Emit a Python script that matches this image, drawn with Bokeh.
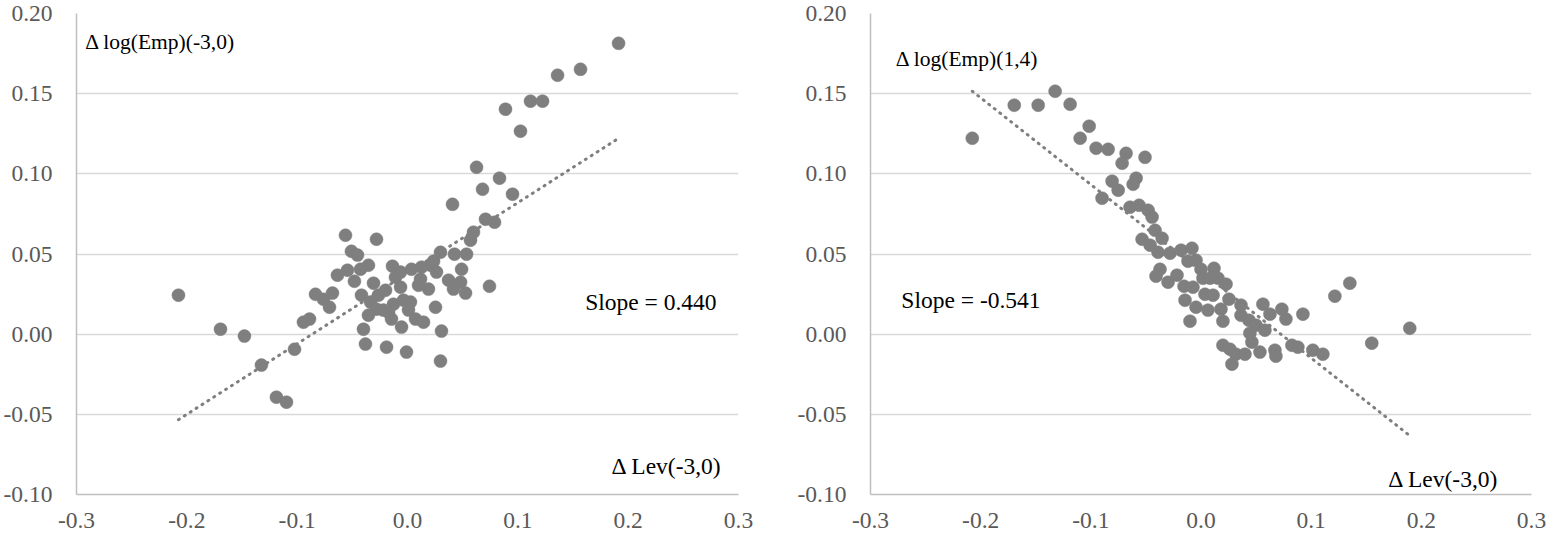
from bokeh.plotting import figure
from bokeh.layouts import row
from bokeh.models import Range1d, FixedTicker, Label
from bokeh.embed import file_html
from bokeh.resources import INLINE

# ---------------- data ----------------
x_ticks = [-0.3, -0.2, -0.1, 0.0, 0.1, 0.2, 0.3]
x_tick_labels = ["-0.3", "-0.2", "-0.1", "0.0", "0.1", "0.2", "0.3"]
y_ticks = [-0.10, -0.05, 0.0, 0.05, 0.10, 0.15, 0.20]
y_tick_labels = ["-0.10", "-0.05", "0.00", "0.05", "0.10", "0.15", "0.20"]

# Left panel: Delta Lev(-3,0) vs Delta log(Emp)(-3,0)
lev_left = [-0.2076, -0.1695, -0.1478, -0.1324, -0.1188, -0.1097, -0.1024, -0.0943,
            -0.0888, -0.0834, -0.0762, -0.0680, -0.0707, -0.0562, -0.0281, -0.0508,
            -0.0453, -0.0354, -0.0635, -0.0544, -0.0481, -0.0426, -0.0308, -0.0417,
            -0.0335, -0.0263, -0.0199, -0.0281, -0.0354, -0.0399, -0.0381, -0.0190,
            -0.0009, -0.0218, -0.0145, -0.0127, -0.0054, -0.0036, 0.0027, 0.0009,
            0.0073, 0.0145, -0.0136, -0.0063, 0.0036, 0.0127, 0.0209, 0.0263,
            0.0299, 0.0236, 0.0100, 0.0190, 0.0118, 0.0254, 0.0308, 0.0299,
            0.0372, 0.0417, 0.0481, 0.0526, 0.0490, 0.0426, 0.0535, 0.0408,
            0.0571, 0.0598, 0.0707, 0.0789, 0.0626, 0.0834, 0.0680, 0.0952,
            0.0743, 0.0888, 0.1024, 0.1115, 0.1224, 0.1360, 0.1568, 0.1913,
            -0.0109, -0.0063, -0.0172]
emp_left = [0.0243, 0.0031, -0.0012, -0.0193, -0.0393, -0.0424, -0.0094, 0.0075,
            0.0094, 0.0249, 0.0218, 0.0256, 0.0168, 0.0617, 0.0592, 0.0517,
            0.0493, 0.0430, 0.0368, 0.0399, 0.0330, 0.0405, 0.0318, 0.0243,
            0.0200, 0.0243, 0.0274, 0.0156, 0.0118, 0.0031, -0.0062, -0.0081,
            -0.0112, 0.0150, 0.0094, 0.0187, 0.0044, 0.0212, 0.0200, 0.0150,
            0.0094, 0.0075, 0.0424, 0.0387, 0.0405, 0.0418, 0.0430, 0.0387,
            0.0511, 0.0455, 0.0305, 0.0281, 0.0343, 0.0168, 0.0019, -0.0168,
            0.0337, 0.0281, 0.0324, 0.0256, 0.0405, 0.0499, 0.0499, 0.0810,
            0.0586, 0.0636, 0.0717, 0.0698, 0.1041, 0.0973, 0.0904, 0.0873,
            0.0299, 0.1403, 0.1266, 0.1453, 0.1453, 0.1615, 0.1652, 0.1814,
            0.0355, 0.0293, 0.0137]
slope_left = 0.440
intercept_left = 0.038

# Right panel: Delta Lev(-3,0) vs Delta log(Emp)(1,4)
lev_right = [-0.2076, -0.1695, -0.1478, -0.1324, -0.1188, -0.1015, -0.1097, -0.0952,
             -0.0843, -0.0680, -0.0716, -0.0508, -0.0589, -0.0616, -0.0807, -0.0752,
             -0.0898, -0.0644, -0.0562, -0.0480, -0.0444, -0.0417, -0.0353, -0.0535,
             -0.0462, -0.0390, -0.0281, -0.0181, -0.0082, -0.0118, -0.0045, 0.0000,
             0.0118, -0.0372, -0.0408, -0.0299, -0.0218, -0.0154, -0.0073, 0.0018,
             0.0082, 0.0154, 0.0227, -0.0145, -0.0045, 0.0036, 0.0109, 0.0181,
             0.0063, -0.0100, 0.0199, 0.0254, 0.0363, 0.0363, 0.0435, 0.0499,
             0.0580, 0.0562, 0.0626, 0.0734, 0.0771, 0.0925, 0.0444, 0.0462,
             0.0199, 0.0263, 0.0317, 0.0399, 0.0281, 0.0535, 0.0671, 0.0680,
             0.0825, 0.0879, 0.1015, 0.1106, 0.1215, 0.1351, 0.1550, 0.1895]
emp_right = [0.1222, 0.1428, 0.1428, 0.1515, 0.1434, 0.1297, 0.1222, 0.1160,
             0.1153, 0.1128, 0.1066, 0.1103, 0.0973, 0.0935, 0.0954, 0.0898,
             0.0848, 0.0792, 0.0804, 0.0773, 0.0730, 0.0648, 0.0598, 0.0592,
             0.0555, 0.0511, 0.0505, 0.0524, 0.0536, 0.0455, 0.0461, 0.0405,
             0.0411, 0.0405, 0.0362, 0.0324, 0.0368, 0.0299, 0.0293, 0.0349,
             0.0349, 0.0349, 0.0312, 0.0212, 0.0168, 0.0249, 0.0243, 0.0156,
             0.0150, 0.0081, 0.0081, 0.0218, 0.0181, 0.0118, 0.0087, 0.0056,
             0.0025, 0.0187, 0.0125, 0.0156, 0.0094, 0.0125, 0.0006, -0.0050,
             -0.0069, -0.0094, -0.0125, -0.0125, -0.0187, -0.0112, -0.0100, -0.0137,
             -0.0069, -0.0081, -0.0100, -0.0125, 0.0237, 0.0318, -0.0056, 0.0037]
slope_right = -0.541
intercept_right = 0.0392

FONT = "Liberation Serif"
GRAY = "#7f7f7f"


def make_panel(xs, ys, slope, intercept, ytitle, slope_txt, lev_txt,
               ytitle_pos, slope_pos, lev_pos,
               width, border_left, border_right):
    p = figure(width=width, height=531, output_backend="svg", toolbar_location=None,
               x_range=Range1d(-0.3, 0.3), y_range=Range1d(-0.10, 0.20),
               min_border_left=border_left, min_border_right=border_right,
               min_border_top=13, min_border_bottom=37)
    p.outline_line_color = None
    p.background_fill_color = "white"
    p.border_fill_color = "white"

    p.xaxis.ticker = FixedTicker(ticks=x_ticks)
    p.yaxis.ticker = FixedTicker(ticks=y_ticks)
    p.xaxis.major_label_overrides = dict(zip(x_ticks, x_tick_labels))
    p.yaxis.major_label_overrides = dict(zip(y_ticks, y_tick_labels))
    for ax in (p.xaxis, p.yaxis):
        ax.axis_line_color = "#bfbfbf"
        ax.axis_line_width = 1.5
        ax.major_tick_line_color = None
        ax.minor_tick_line_color = None
        ax.major_label_text_font = FONT
        ax.major_label_text_font_size = "23.5px"
        ax.major_label_text_color = "#595959"
    p.xaxis.major_label_standoff = 12
    p.yaxis.major_label_standoff = 18
    p.xgrid.visible = False
    p.ygrid.grid_line_color = "#d9d9d9"
    p.ygrid.grid_line_width = 1.5

    x0, x1 = min(xs), max(xs)
    p.line([x0, x1], [slope * x0 + intercept, slope * x1 + intercept],
           line_color=GRAY, line_width=3, line_dash="1 6", line_cap="round")
    p.scatter(xs, ys, size=13, fill_color=GRAY, line_color=GRAY, line_width=0.5)

    for txt, (lx, ly), size in ((ytitle, ytitle_pos, "21.5px"),
                                (slope_txt, slope_pos, "23.5px"),
                                (lev_txt, lev_pos, "23.5px")):
        p.add_layout(Label(x=lx, y=ly, text=txt, text_font=FONT,
                           text_font_size=size, text_color="black",
                           text_align="left", text_baseline="middle"))
    return p


p1 = make_panel(lev_left, emp_left, slope_left, intercept_left,
                "\u0394 log(Emp)(-3,0)", "Slope = 0.440", "\u0394 Lev(-3,0)",
                (-0.292, 0.182), (0.161, 0.0200), (0.185, -0.0825),
                794, 75, 56)
p2 = make_panel(lev_right, emp_right, slope_right, intercept_right,
                "\u0394 log(Emp)(1,4)", "Slope = -0.541", "\u0394 Lev(-3,0)",
                (-0.277, 0.1714), (-0.272, 0.021), (0.170, -0.0905),
                752, 75, 15)

layout = row(p1, p2)
open("out.html", "w").write(file_html(layout, INLINE))
